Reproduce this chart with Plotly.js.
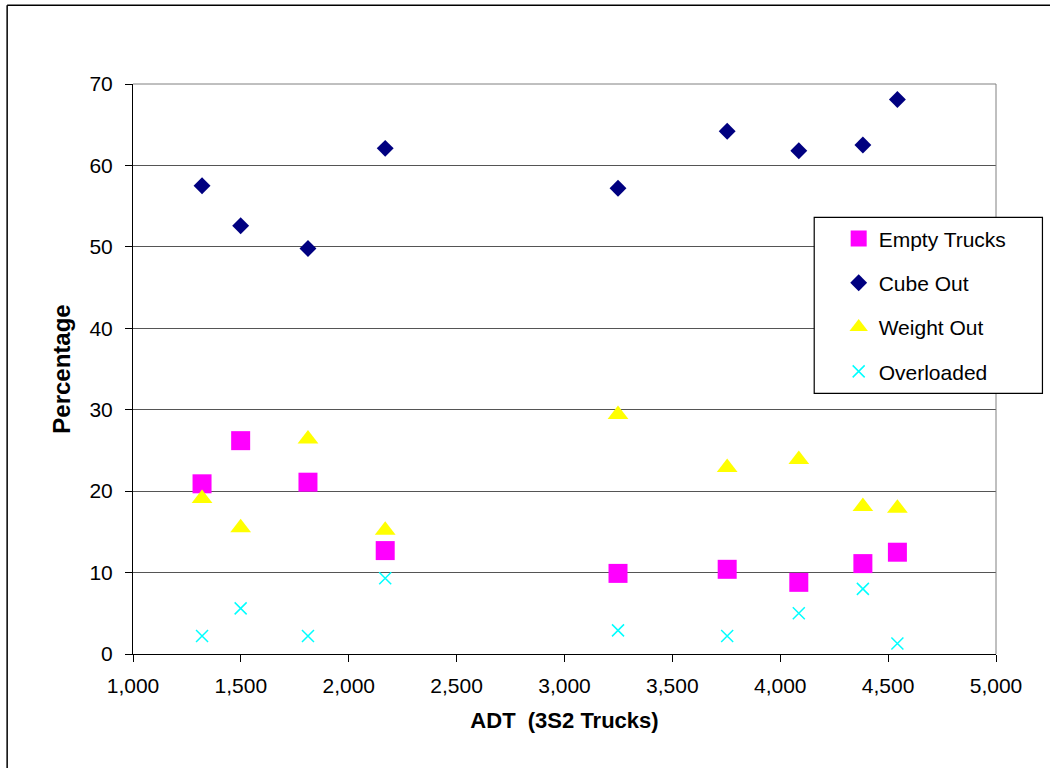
<!DOCTYPE html>
<html>
<head>
<meta charset="utf-8">
<script src="https://cdn.plot.ly/plotly-3.0.1.min.js"></script>
<style>
  html, body { margin: 0; padding: 0; background: #fff; }
  #chart { width: 1050px; height: 768px; }
</style>
</head>
<body>
<div id="chart"></div>
<script>
// ADT (3S2 trucks) per site
var adt = [1320, 1499, 1811, 2169, 3248, 3754, 4086, 4383, 4543];
var emptyTrucks = [20.9, 26.2, 21.1, 12.7, 9.9, 10.4, 8.8, 11.1, 12.5];
var cubeOut     = [57.5, 52.6, 49.8, 62.1, 57.2, 64.2, 61.8, 62.5, 68.1];
var weightOut   = [19.1, 15.5, 26.4, 15.2, 29.4, 22.9, 23.9, 18.1, 17.9];
var overloaded  = [2.2, 5.6, 2.2, 9.3, 2.9, 2.2, 5.0, 8.0, 1.3];

var seriesNames = ["Empty Trucks", "Cube Out", "Weight Out", "Overloaded"];
var xTickVals = [1000, 1500, 2000, 2500, 3000, 3500, 4000, 4500, 5000];
var yTickVals = [0, 10, 20, 30, 40, 50, 60, 70];

var FONT = "Liberation Sans, Arial, sans-serif";

var traces = [
  { x: adt, y: emptyTrucks, name: seriesNames[0], legendgroup: "a", type: "scatter", mode: "markers",
    marker: { symbol: "square", size: 19, color: "#FF00FF" } },
  { x: adt, y: cubeOut, name: seriesNames[1], legendgroup: "b", type: "scatter", mode: "markers",
    marker: { symbol: "diamond", size: 13, color: "#000080" } },
  { x: adt, y: weightOut, name: seriesNames[2], legendgroup: "c", type: "scatter", mode: "markers",
    marker: { symbol: "triangle-up", size: 18, color: "#FFFF00" } },
  { x: adt, y: overloaded, name: seriesNames[3], legendgroup: "d", type: "scatter", mode: "markers",
    marker: { symbol: "x-thin", size: 12, color: "#00FFFF", line: { color: "#00FFFF", width: 1.5 } } }
];

// plot area in px: left 132.5, right 996.5, top 83.7, bottom 653.7
var L = 132.5, R = 996.5, T = 83.7, B = 653.7;
var W = R - L, H = B - T;
function px(xp) { return (xp - L) / W; }
function py(yp) { return (B - yp) / H; }

var layout = {
  width: 1050, height: 768,
  margin: { l: L, r: 1050 - R, t: T, b: 768 - B, pad: 0 },
  paper_bgcolor: "#ffffff",
  plot_bgcolor: "#ffffff",
  font: { family: FONT, size: 21, color: "#000" },
  showlegend: true,
  legend: {
    x: px(839), y: py(218), xanchor: "left", yanchor: "top",
    bgcolor: "rgba(0,0,0,0)", borderwidth: 0,
    font: { family: FONT, size: 21, color: "#000" },
    tracegroupgap: 14, traceorder: "grouped", itemwidth: 30
  },
  xaxis: {
    range: [1000, 5000], tickvals: xTickVals, tickformat: ",d",
    showgrid: false, zeroline: false,
    showline: true, linecolor: "#000", linewidth: 1,
    ticks: "outside", ticklen: 7, tickcolor: "#000",
    ticklabelstandoff: 6,
    tickfont: { family: FONT, size: 21, color: "#000" },
    title: { text: "ADT  (3S2 Trucks)", standoff: 16, font: { family: FONT, size: 22, color: "#000", weight: "bold" } }
  },
  yaxis: {
    range: [0, 70], tickvals: yTickVals,
    showgrid: true, gridcolor: "#555", gridwidth: 1, zeroline: false,
    showline: true, linecolor: "#000", linewidth: 1,
    ticks: "outside", ticklen: 7, tickcolor: "#000",
    ticklabelstandoff: 8,
    tickfont: { family: FONT, size: 21, color: "#000" },
    title: { text: "Percentage", standoff: 12, font: { family: FONT, size: 24, color: "#000", weight: "bold" } }
  },
  shapes: [
    // plot area top/right border (gray)
    { type: "line", xref: "paper", yref: "paper", x0: 0, x1: 1, y0: 1, y1: 1, line: { color: "#808080", width: 1 } },
    { type: "line", xref: "paper", yref: "paper", x0: 1, x1: 1, y0: 0, y1: 1, line: { color: "#808080", width: 1 } },
    // legend box
    { type: "rect", xref: "paper", yref: "paper", layer: "above",
      x0: px(814.5), x1: px(1043), y0: py(217), y1: py(393),
      fillcolor: "#fff", line: { color: "#000", width: 1.2 } },
    // outer chart frame (left and top visible)
    { type: "line", xref: "paper", yref: "paper", x0: px(6.5), x1: px(6.5), y0: py(5), y1: py(780), line: { color: "#000", width: 1.5 } },
    { type: "line", xref: "paper", yref: "paper", x0: px(6.5), x1: px(1060), y0: py(5), y1: py(5), line: { color: "#000", width: 1.5 } }
  ]
};

Plotly.newPlot("chart", traces, layout, { displayModeBar: false, staticPlot: true });
</script>
</body>
</html>
